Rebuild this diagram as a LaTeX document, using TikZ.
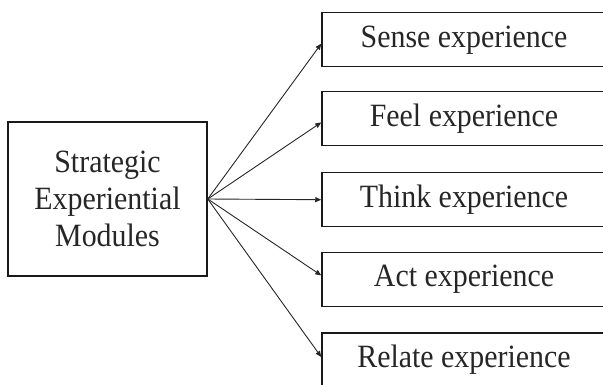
\documentclass[tikz,border=0pt]{standalone}
\usepackage{fontspec}
\setmainfont{Liberation Serif}[FakeStretch=0.92]
\usetikzlibrary{arrows.meta}
\begin{document}
\begin{tikzpicture}[x=1pt,y=1pt,
  box/.style={draw=black!90, line width=1.5pt, inner sep=0pt, align=center,
    font=\fontsize{32.5}{37}\selectfont, text=black!85},
  rbox/.style={box, minimum width=284pt, minimum height=54pt},
  conn/.style={draw=black!85, line width=0.9pt, -{Triangle[length=6pt,width=5pt]}}]
\useasboundingbox (0,0) rectangle (603,-384);
\clip (0,0) rectangle (603,-384);
\node[box, minimum width=199pt, minimum height=154pt] (L) at (107.5,-199) {Strategic\\Experiential\\Modules};
\node[rbox] (s) at (464,-39.7) {Sense experience};
\node[rbox] (f) at (464,-118.4) {Feel experience};
\node[rbox] (t) at (464,-199.7) {Think experience};
\node[rbox] (a) at (464,-279.4) {Act experience};
\node[rbox] (r) at (464,-360) {Relate experience};
\draw[conn] (L.east) -- ([yshift=-4pt]s.west);
\draw[conn] (L.east) -- ([yshift=-4pt]f.west);
\draw[conn] (L.east) -- (t.west);
\draw[conn] (L.east) -- ([yshift=4pt]a.west);
\draw[conn] (L.east) -- ([yshift=3pt]r.west);
\end{tikzpicture}
\end{document}
